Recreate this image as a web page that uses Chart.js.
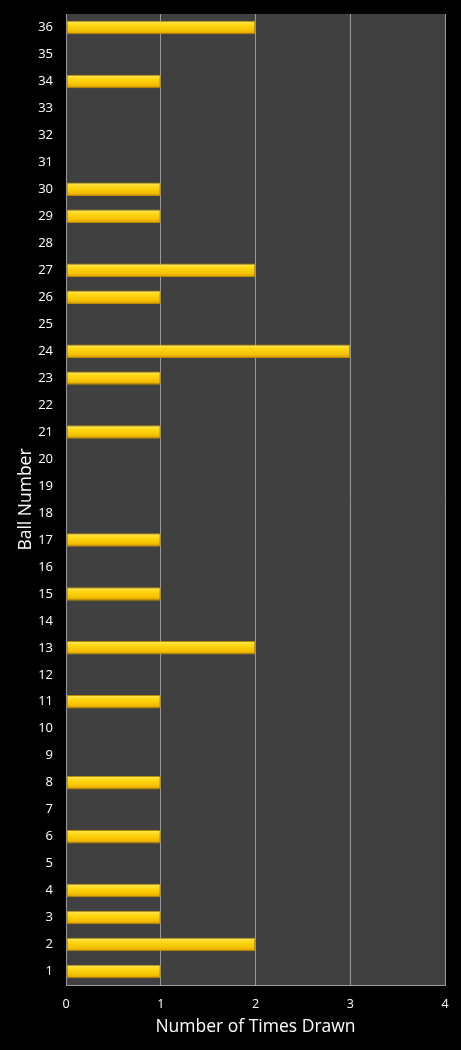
<!DOCTYPE html>
<html>
<head>
<meta charset="utf-8">
<script src="https://cdn.jsdelivr.net/npm/chart.js@4"></script>
<style>
  html, body { margin: 0; padding: 0; background: #000; }
  #wrap { width: 461px; height: 1050px; }
</style>
</head>
<body>
<div id="wrap"><canvas id="ballChart"></canvas></div>
<script>
// Ball numbers 1..36 and how often each was drawn
const balls = ['1','2','3','4','5','6','7','8','9','10','11','12','13','14','15','16','17','18',
  '19','20','21','22','23','24','25','26','27','28','29','30','31','32','33','34','35','36'];
const timesDrawn = [1,2,1,1,0,1,0,1,0,0,1,0,2,0,1,0,1,0,
  0,0,1,0,1,3,0,1,2,0,1,1,0,0,0,1,0,2];
const xTicks = [0, 1, 2, 3, 4];

const FONT = "'Open Sans', 'DejaVu Sans', sans-serif";

// vertical yellow gradient per bar, positioned with the y scale
function barFill(context) {
  const chart = context.chart;
  const yScale = chart.scales.y;
  if (!chart.chartArea || !yScale) return '#ffd000';
  const mid = yScale.getPixelForValue(context.dataIndex);
  const half = 6.5;
  const g = chart.ctx.createLinearGradient(0, mid - half, 0, mid + half);
  g.addColorStop(0, '#ffe866');
  g.addColorStop(0.3, '#ffd814');
  g.addColorStop(0.75, '#f5c000');
  g.addColorStop(1, '#d99a00');
  return g;
}

const plotBg = {
  id: 'plotBg',
  beforeDraw(chart) {
    const a = chart.chartArea;
    const ctx = chart.ctx;
    ctx.save();
    ctx.fillStyle = '#404040';
    ctx.fillRect(a.left, a.top, a.right - a.left, a.bottom - a.top);
    ctx.restore();
  }
};

const ctx = document.getElementById('ballChart').getContext('2d');
new Chart(ctx, {
  type: 'bar',
  data: {
    labels: balls,
    datasets: [{
      label: 'Number of Times Drawn',
      data: timesDrawn,
      backgroundColor: barFill,
      borderColor: '#b88a00',
      borderWidth: 1,
      borderSkipped: false,
      barPercentage: 0.5,
      categoryPercentage: 1
    }]
  },
  options: {
    indexAxis: 'y',
    responsive: true,
    maintainAspectRatio: false,
    animation: false,
    layout: { padding: { top: 14, right: 16, left: 16, bottom: 8 } },
    plugins: {
      legend: { display: false },
      tooltip: { enabled: false }
    },
    scales: {
      x: {
        min: 0,
        max: 4,
        afterBuildTicks(scale) {
          scale.ticks = xTicks.map(v => ({ value: v }));
        },
        afterFit(scale) {
          scale.height = 57;
          scale.paddingLeft = 0;
          scale.paddingRight = 0;
        },
        grid: {
          color: '#9a9a9a',
          lineWidth: 1,
          drawTicks: false
        },
        border: { display: true, color: '#9a9a9a' },
        ticks: {
          color: '#ffffff',
          padding: 12,
          font: { family: FONT, size: 12.5 }
        },
        title: {
          display: true,
          text: 'Number of Times Drawn',
          color: '#ffffff',
          padding: { top: 2, bottom: 4 },
          font: { family: FONT, size: 17.5 }
        }
      },
      y: {
        reverse: true,
        afterFit(scale) {
          scale.width = 50;
          scale.paddingTop = 0;
          scale.paddingBottom = 0;
        },
        grid: { display: false, drawTicks: false },
        border: { display: true, color: '#9a9a9a' },
        ticks: {
          color: '#ffffff',
          padding: 13,
          autoSkip: false,
          font: { family: FONT, size: 13 }
        },
        title: {
          display: true,
          text: 'Ball Number',
          color: '#ffffff',
          padding: { top: 0, bottom: 0 },
          font: { family: FONT, size: 17.5 }
        }
      }
    }
  },
  plugins: [plotBg]
});
</script>
</body>
</html>
